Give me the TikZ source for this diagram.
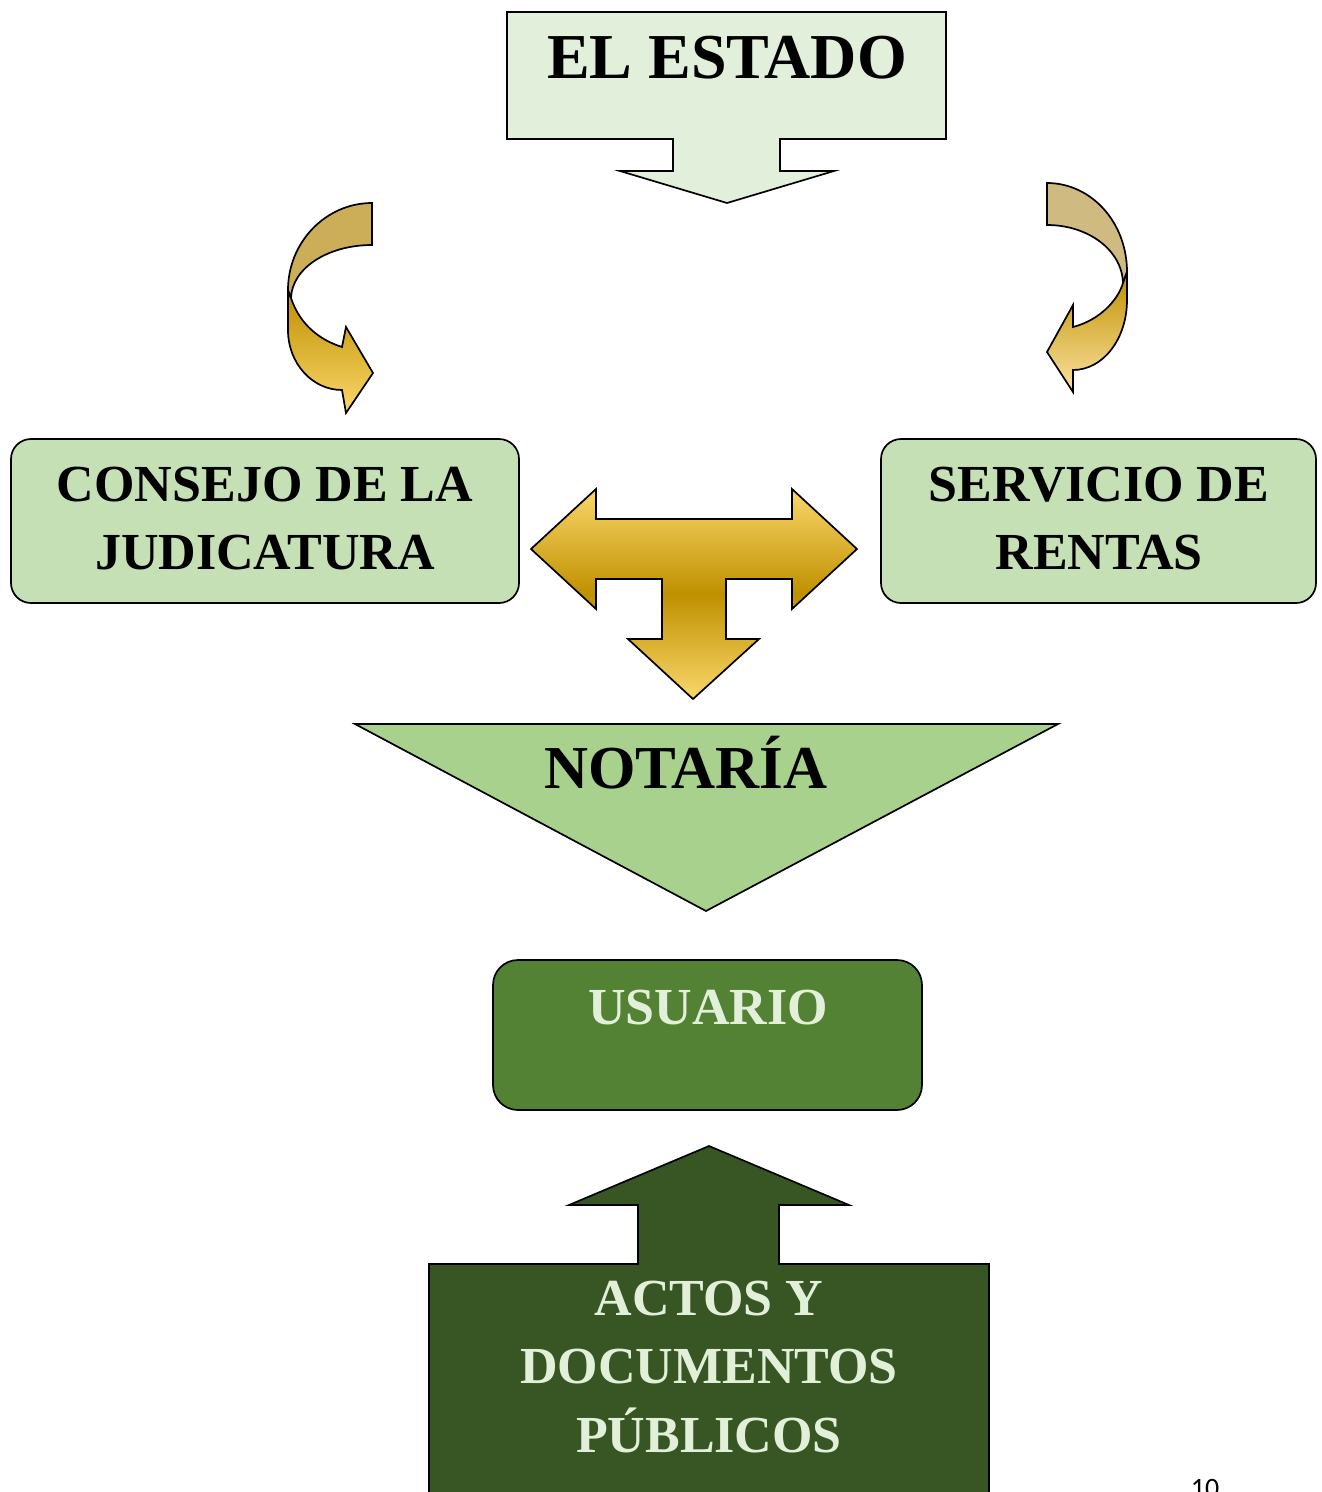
\documentclass[tikz,border=0pt]{standalone}
\usepackage{fontspec}
\setmainfont{Liberation Serif}
\newfontfamily\pagefont{Carlito}
\definecolor{estadofill}{HTML}{E2EFDA}
\definecolor{sidefill}{HTML}{C5E0B4}
\definecolor{notariafill}{HTML}{A9D18E}
\definecolor{usuariofill}{HTML}{548235}
\definecolor{actosfill}{HTML}{375623}
\definecolor{lighttext}{HTML}{E2F0D9}
\definecolor{golddark}{HTML}{BF9000}
\definecolor{goldlight}{HTML}{FAD76A}
\definecolor{goldpale}{HTML}{FCE2A0}
\definecolor{bandleft}{HTML}{CDAE58}
\definecolor{bandright}{HTML}{CFBA82}
\tikzset{
  outline/.style={draw=black, line width=1.7pt, line join=miter},
  roundbox/.style={outline, rounded corners=20pt},
  bigtext/.style={font={\bfseries\fontsize{52}{68}\selectfont}, align=center, anchor=base, inner sep=0pt},
}
\begin{document}
\begin{tikzpicture}[x=1pt,y=-1pt]
\useasboundingbox (0,0) rectangle (1322,1492);
\fill[white] (0,0) rectangle (1322,1492);

% EL ESTADO down-arrow callout
\draw[outline, fill=estadofill] (507,12) -- (946,12) -- (946,139) -- (780,139) -- (780,171) -- (834,171) -- (727,203) -- (620,171) -- (673,171) -- (673,139) -- (507,139) -- cycle;
\node[bigtext, font={\bfseries\fontsize{64}{70}\selectfont}] (estado) at (727,78) {EL ESTADO};

% left curved arrow
\draw[outline, fill=bandleft] (372,203) .. controls (326,203) and (288,242) .. (288,290) -- (291,298) .. controls (292,268) and (328,245) .. (372,245) -- cycle;
\draw[outline, top color=golddark, bottom color=goldlight] (291,298) -- (288,292) -- (288,330) .. controls (288,363) and (312,390) .. (342,390) -- (346,413) -- (373,373) -- (346,327) -- (342,347) .. controls (320,340) and (300,325) .. (291,298) -- cycle;

% right curved arrow
\draw[outline, fill=bandright] (1047,183) .. controls (1091,183) and (1127,222) .. (1127,272) -- (1123,283) .. controls (1122,250) and (1088,225) .. (1047,225) -- cycle;
\draw[outline, top color=golddark, bottom color=goldpale] (1123,283) -- (1127,272) -- (1127,300) .. controls (1127,339) and (1103,370) .. (1073,370) -- (1073,392) -- (1047,352) -- (1073,305) -- (1073,327) .. controls (1100,320) and (1118,300) .. (1123,283) -- cycle;

% side boxes
\draw[roundbox, fill=sidefill] (11,439) rectangle (519,603);
\node[bigtext] (consejo) at (265,569) {CONSEJO DE LA\\JUDICATURA};
\draw[roundbox, fill=sidefill] (881,439) rectangle (1316,603);
\node[bigtext] (servicio) at (1099,569) {SERVICIO DE\\RENTAS};

% T-shaped gold arrow
\draw[outline, top color=goldlight, bottom color=goldlight, middle color=golddark]
  (531,549) -- (596,489) -- (596,519) -- (792,519) -- (792,489) -- (857,549) -- (792,609) -- (792,579) -- (726,579) -- (726,639) -- (759,639) -- (693,699) -- (628,639) -- (662,639) -- (662,579) -- (596,579) -- (596,609) -- cycle;

% NOTARIA triangle
\draw[outline, fill=notariafill] (355,724) -- (1058,724) -- (706,911) -- cycle;
\node[bigtext, font={\bfseries\fontsize{61}{70}\selectfont}] (notaria) at (686,788) {NOTARÍA};

% USUARIO box
\draw[outline, rounded corners=25pt, fill=usuariofill] (493,960) rectangle (922,1110);
\node[bigtext, text=lighttext] (usuario) at (708,1024) {USUARIO};

% ACTOS up-arrow callout
\draw[outline, fill=actosfill] (429,1264) -- (638,1264) -- (638,1205) -- (569,1205) -- (709,1146) -- (849,1205) -- (779,1205) -- (779,1264) -- (989,1264) -- (989,1510) -- (429,1510) -- cycle;
\node[bigtext, font={\bfseries\fontsize{52}{68.5}\selectfont}, text=lighttext] (actos) at (709,1452) {ACTOS Y\\DOCUMENTOS\\PÚBLICOS};

% page number
\node[anchor=base, inner sep=0pt, font={\pagefont\fontsize{28}{30}\selectfont}] (pagenum) at (1205,1497) {10};
\end{tikzpicture}
\end{document}
